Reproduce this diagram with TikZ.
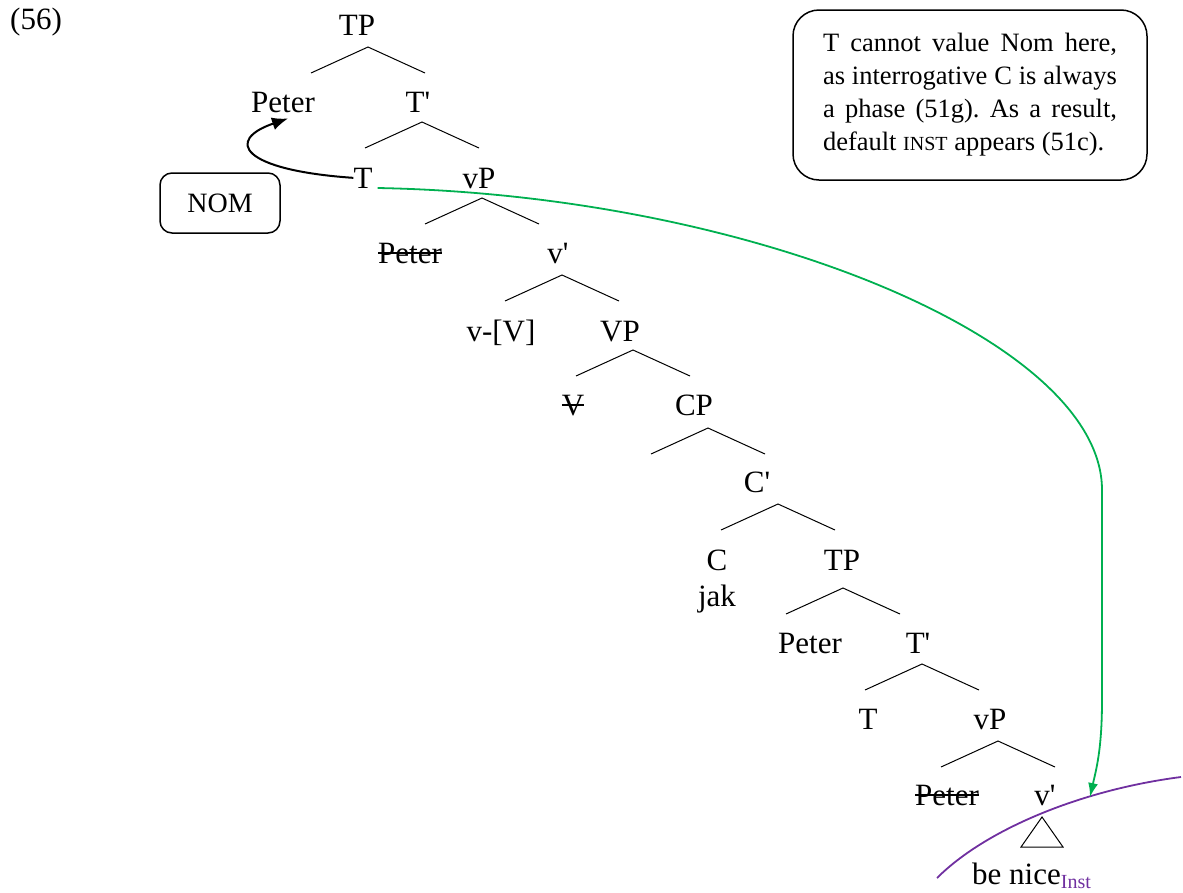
\documentclass[tikz,border=0pt]{standalone}
\usepackage{fontspec}
\setmainfont{Liberation Serif}
\usetikzlibrary{arrows.meta}
\definecolor{mygreen}{HTML}{00B050}
\definecolor{mypurple}{HTML}{7030A0}
\newcommand\strk[1]{\setbox0=\hbox{#1}\rlap{\rule[0.3em]{\wd0}{1.5pt}}\box0}
\newcommand\apo{\textquotesingle}
\frenchspacing
\tikzset{
  tn/.style={font=\fontsize{31}{37}\selectfont, inner sep=0pt, anchor=base},
  fork/.pic={\draw[line width=1pt] (-57,26) -- (0,0) -- (57,26);},
  roundbox/.style={draw, line width=1.5pt, inner sep=0pt},
  blackarrow/.style={line width=2pt, -{Latex[length=16pt,width=13pt]}},
  greenarrow/.style={draw=mygreen, line width=1.8pt, -{Latex[length=14pt,width=10pt]}},
  purpleline/.style={draw=mypurple, line width=1.8pt},
}
\begin{document}
\begin{tikzpicture}[x=1pt,y=-1pt]
\useasboundingbox (0,0) rectangle (1183,892);
% labels
\node[tn] (ex) at (36,29) {(56)};
\node[tn] (tp1) at (357,35) {TP};
\node[tn] (peter1) at (283,112) {Peter};
\node[tn] (tbar1) at (418,112) {T\apo};
\node[tn] (t1) at (363,188) {T};
\node[tn] (vp1) at (479,188) {vP};
\node[tn] (peter2) at (410,263) {\strk{Peter}};
\node[tn] (vbar1) at (558,263) {v\apo};
\node[tn] (vv) at (501,341) {v-[V]};
\node[tn] (VP) at (620,341) {VP};
\node[tn] (V) at (573,415) {\strk{V}};
\node[tn] (CP) at (694,415) {CP};
\node[tn] (cbar) at (757,492) {C\apo};
\node[tn] (C) at (717,570) {C};
\node[tn] (jak) at (717,606) {jak};
\node[tn] (tp2) at (842,570) {TP};
\node[tn] (peter3) at (810,653) {Peter};
\node[tn] (tbar2) at (918,653) {T\apo};
\node[tn] (t2) at (868,729) {T};
\node[tn] (vp2) at (990,729) {vP};
\node[tn] (peter4) at (947,805) {\strk{Peter}};
\node[tn] (vbar2) at (1045,805) {v\apo};
\node[tn, anchor=base west] (benice) at (972,884) {be nice{\color{mypurple}\fontsize{20}{20}\selectfont\raisebox{-4pt}{Inst}}};
% branches
\foreach \p in {(368,47),(422,122),(482,198),(562,275),(633,350),(708,428),(778,504),(843,588),(922,664),(998,741)}
  \pic at \p {fork};
\draw[line width=1pt] (1042,817) -- (1021,847) -- (1063,847) -- cycle;
% boxes
\node[roundbox, rounded corners=12pt, minimum width=120pt, minimum height=60pt,
      font=\fontsize{28}{33}\selectfont] (nom) at (220,203) {NOM};
\node[roundbox, rounded corners=26pt, text width=294pt, inner xsep=30pt, minimum height=170pt,
      align=justify, font=\fontsize{26.5}{33}\selectfont] (note) at (970,95)
  {T cannot value Nom here,\linebreak as interrogative C is always\linebreak a phase (51g). As a result,\linebreak default {\fontsize{20}{20}\selectfont INST} appears (51c).};
% purple phase boundary
\coordinate (pa) at (937,878);
\coordinate (pb) at (1181,777);
\draw[purpleline] (pa) .. controls (985,830) and (1080,790) .. (pb);
% arrows
\draw[blackarrow] (t1.west) .. controls (240,170) and (225,140) .. ([shift={(5pt,-6pt)}]peter1.south);
\coordinate (gend) at (1090,797);
\draw[greenarrow] ([xshift=5pt]t1.base east) .. controls (750,195) and (1102,340) .. (1102,490) -- (1102,700) .. controls (1102,750) and (1096,770) .. (gend);
\end{tikzpicture}
\end{document}
